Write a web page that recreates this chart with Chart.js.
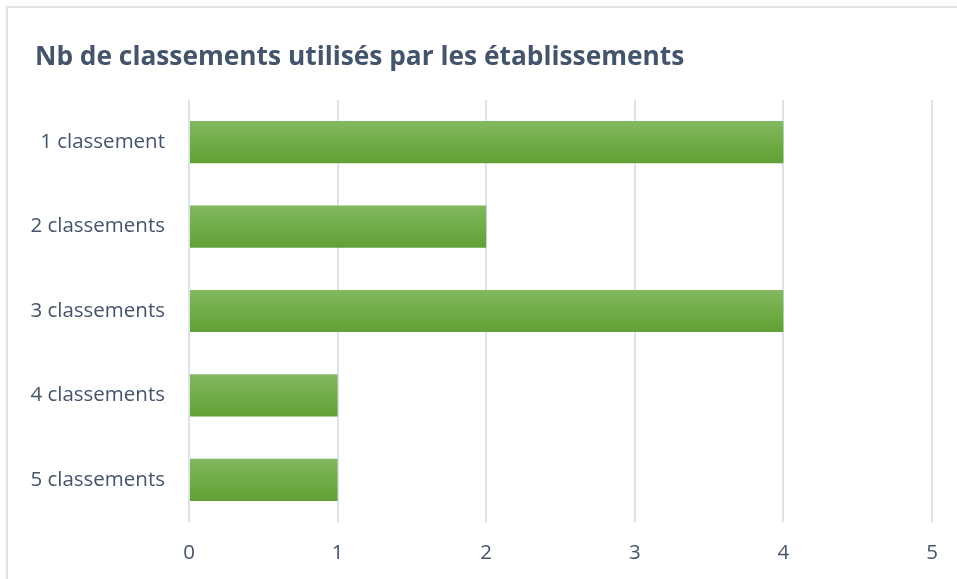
<!DOCTYPE html>
<html>
<head>
<meta charset="utf-8">
<script src="https://cdn.jsdelivr.net/npm/chart.js@4"></script>
<style>
    body { margin: 0; background: #fff; overflow: hidden; }
    .frame {
        position: absolute; left: 6px; top: 6px;
        width: 970px; height: 600px;
        border: 2px solid #dfe4e9; box-sizing: border-box;
    }
    .wrap { position: absolute; left: 0; top: 0; width: 957px; height: 579px; }
    .title {
        position: absolute; left: 35px; top: 39px;
        font: bold 26.3px/32px 'Open Sans', sans-serif;
        color: #44546a; white-space: nowrap;
    }
</style>
</head>
<body>
<div class="frame"></div>
<div class="wrap"><canvas id="chart"></canvas></div>
<div class="title">Nb de classements utilisés par les établissements</div>
<script>
// données du graphique
const categories = ['1 classement', '2 classements', '3 classements', '4 classements', '5 classements'];
const values = [4, 2, 4, 1, 1];
const xTicks = [0, 1, 2, 3, 4, 5];

const textColor = '#44546a';
const gridColor = '#dde3ea';

// dégradé vertical par barre
function barGradient(context) {
    const chart = context.chart;
    if (!chart.chartArea || context.dataIndex === undefined) return '#70ad47';
    const yScale = chart.scales.y;
    const center = yScale.getPixelForValue(context.dataIndex);
    const half = (yScale.height / categories.length) * 0.25;
    const g = chart.ctx.createLinearGradient(0, center - half, 0, center + half);
    g.addColorStop(0, '#83b860');
    g.addColorStop(0.5, '#70ad47');
    g.addColorStop(1, '#61a037');
    return g;
}

new Chart(document.getElementById('chart'), {
    type: 'bar',
    data: {
        labels: categories,
        datasets: [{
            data: values,
            backgroundColor: barGradient,
            borderWidth: 0,
            barPercentage: 0.5,
            categoryPercentage: 1
        }]
    },
    options: {
        indexAxis: 'y',
        responsive: true,
        maintainAspectRatio: false,
        animation: false,
        layout: { padding: { left: 0, right: 25, top: 100, bottom: 0 } },
        plugins: {
            legend: { display: false },
            tooltip: { enabled: false },
            title: { display: false }
        },
        scales: {
            x: {
                min: 0,
                max: 5,
                afterBuildTicks: scale => { scale.ticks = xTicks.map(v => ({ value: v })); },
                afterFit: scale => { scale.height = 57; },
                grid: { color: gridColor, lineWidth: 2, drawTicks: false },
                border: { display: false },
                ticks: {
                    color: textColor,
                    padding: 19,
                    font: { family: 'Open Sans', size: 20.5 }
                }
            },
            y: {
                afterFit: scale => { scale.width = 189; },
                grid: { display: false, drawTicks: false },
                border: { display: false },
                ticks: {
                    color: textColor,
                    padding: 24,
                    font: { family: 'Open Sans', size: 20.5 }
                }
            }
        }
    }
});
</script>
</body>
</html>
